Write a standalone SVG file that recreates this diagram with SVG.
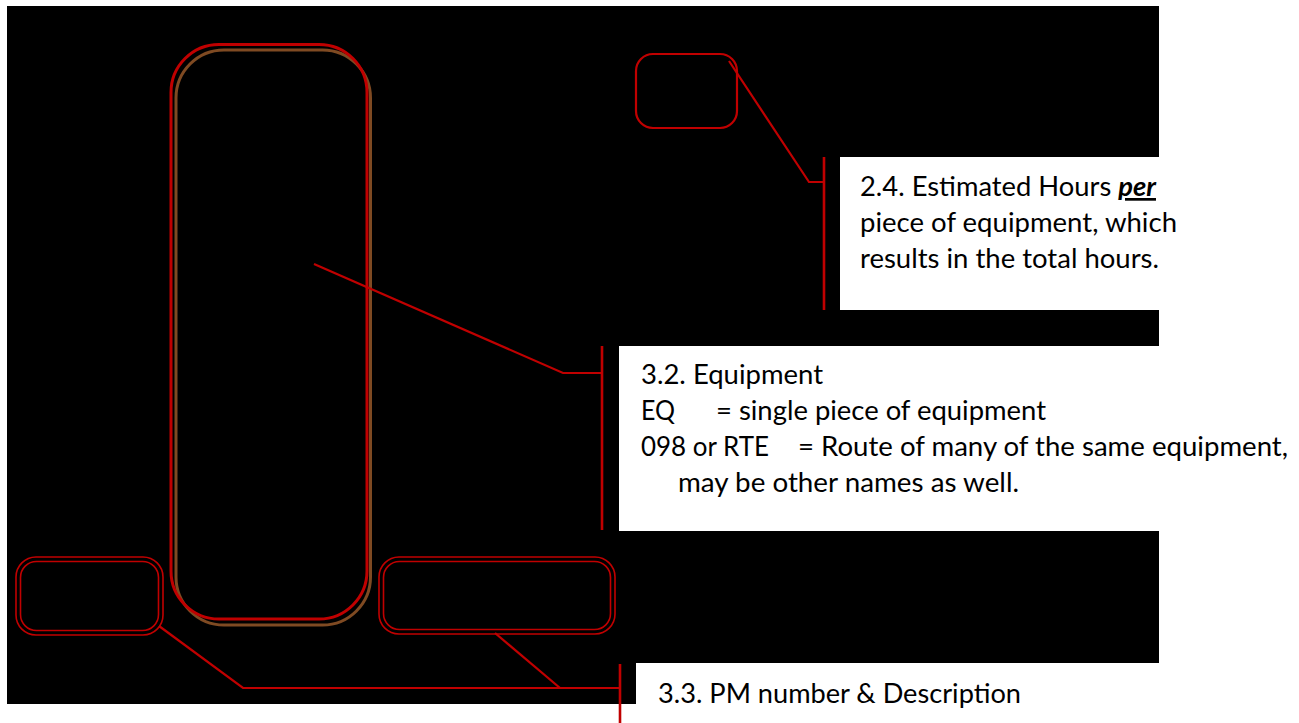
<svg xmlns="http://www.w3.org/2000/svg" width="1299" height="723" viewBox="0 0 1299 723">
<style>
.bg{fill:#ffffff}
.panel{fill:#000000}
.note{fill:#ffffff}
.red{fill:none;stroke:#c00000;stroke-width:3}
.brown{fill:none;stroke:#7f4a22;stroke-width:3}
.thin{fill:none;stroke:#c00000;stroke-width:1.6}
.box{fill:none;stroke:#c00000;stroke-width:2.2}
.conn{fill:none;stroke:#c00000;stroke-width:2.2}
.bar{fill:none;stroke:#c00000;stroke-width:2.6}
.t{font-family:Lato,"Open Sans","Liberation Sans",sans-serif;font-size:27px;fill:#000000}
.em{font-weight:bold;font-style:italic;text-decoration:underline}
</style>
<rect class="bg" x="0" y="0" width="1299" height="723"/>
<rect class="panel" x="7" y="6" width="1152" height="698"/>
<g id="equipment-column">
<rect class="brown" x="176" y="50" width="194.5" height="575" rx="48" ry="48"/>
<rect class="red" x="171" y="44.5" width="196" height="574.5" rx="48" ry="48"/>
</g>
<g id="hours-cell">
<rect class="box" x="636" y="54" width="101" height="74" rx="17" ry="17"/>
</g>
<g id="pm-number">
<rect class="thin" x="16" y="557" width="147" height="78" rx="20" ry="20"/>
<rect class="thin" x="20.5" y="561.5" width="138" height="69" rx="16" ry="16"/>
</g>
<g id="pm-description">
<rect class="thin" x="379" y="557" width="236" height="77" rx="20" ry="20"/>
<rect class="thin" x="383.5" y="561.5" width="227" height="68" rx="16" ry="16"/>
</g>
<g id="connectors">
<path class="conn" d="M729,61 L809,182 L824,182"/>
<path class="bar" d="M824,157 V310"/>
<path class="conn" d="M314,264 L563,373 L602,373"/>
<path class="bar" d="M602,346 V530"/>
<path class="conn" d="M159,626 L243,688 L620,688"/>
<path class="conn" d="M495,633 L560,688"/>
<path class="bar" d="M620,664 V723"/>
</g>
<g id="note-2-4">
<rect class="note" x="840" y="157" width="459" height="153"/>
<text class="t" x="860" y="196" textLength="296" lengthAdjust="spacingAndGlyphs">2.4. Estimated Hours <tspan class="em">per</tspan></text>
<text class="t" x="860" y="232" textLength="317" lengthAdjust="spacingAndGlyphs">piece of equipment, which</text>
<text class="t" x="860" y="268" textLength="299" lengthAdjust="spacingAndGlyphs">results in the total hours.</text>
</g>
<g id="note-3-2">
<rect class="note" x="619" y="346" width="680" height="185"/>
<text class="t" x="641" y="384" textLength="182" lengthAdjust="spacingAndGlyphs">3.2. Equipment</text>
<text class="t" x="641" y="420" textLength="34" lengthAdjust="spacingAndGlyphs">EQ</text>
<text class="t" x="716" y="420" textLength="330" lengthAdjust="spacingAndGlyphs">= single piece of equipment</text>
<text class="t" x="641" y="456" textLength="128" lengthAdjust="spacingAndGlyphs">098 or RTE</text>
<text class="t" x="798" y="456" textLength="490" lengthAdjust="spacingAndGlyphs">= Route of many of the same equipment,</text>
<text class="t" x="678" y="492" textLength="341" lengthAdjust="spacingAndGlyphs">may be other names as well.</text>
</g>
<g id="note-3-3">
<rect class="note" x="636" y="663" width="663" height="60"/>
<text class="t" x="658" y="703" textLength="363" lengthAdjust="spacingAndGlyphs">3.3. PM number &amp; Description</text>
</g>
</svg>
